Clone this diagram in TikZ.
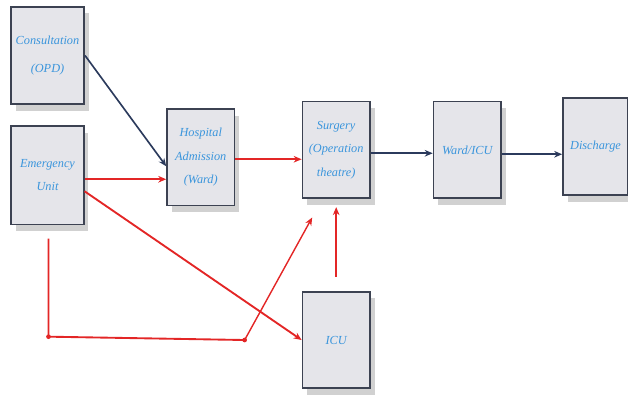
\documentclass[tikz,border=0pt]{standalone}
\usepackage{xcolor}
\usepackage{fontspec}
\setmainfont{Liberation Serif}
\usetikzlibrary{arrows.meta,positioning,calc,shadows}

\definecolor{boxfill}{HTML}{E5E5EA}
\definecolor{boxline}{HTML}{3C4252}
\definecolor{txtblue}{HTML}{3A95DC}
\definecolor{flowred}{HTML}{E32626}
\definecolor{flownavy}{HTML}{2B3A5C}

\begin{document}
\begin{tikzpicture}[
    node distance=0.57cm and 2cm,
    stage/.style={draw=boxline, line width=1.5pt, fill=boxfill, minimum width=2.02cm, minimum height=2.9cm,
        font=\fontsize{10.5}{20}\selectfont\itshape, text=txtblue, align=center, inner sep=2pt,
        drop shadow={shadow xshift=0.14cm, shadow yshift=-0.2cm, opacity=0.3, fill=black!60}},
    redarr/.style={-{Stealth[length=2.4mm,width=2mm]}, flowred, line width=1.6pt},
    navyarr/.style={-{Stealth[length=2.4mm,width=2mm]}, flownavy, line width=1.4pt},
    redline/.style={flowred, line width=1.6pt},
    elbow/.style={circle, fill=flowred, inner sep=0pt, minimum size=4pt}
]
    \useasboundingbox (0,0) rectangle (18.84,-12.27);
    % Entry points on the left
    \node[stage, minimum width=2.2cm, minimum height=2.93cm] (cons) at (1.425,-1.665) {Consultation\\[4pt](OPD)};
    \node[stage, minimum width=2.17cm, minimum height=2.95cm, below=0.6cm of cons] (emer) {Emergency\\Unit};
    % Main flow
    \node[stage, right=2.45cm of emer, yshift=0.54cm] (adm) {Hospital\\Admission\\(Ward)};
    \node[stage, right=1.99cm of adm, yshift=0.22cm] (surg) {Surgery\\(Operation\\theatre)};
    \node[stage, right=1.86cm of surg] (ward) {Ward/ICU};
    \node[stage, minimum width=1.95cm, right=1.81cm of ward, yshift=0.1cm] (dis) {Discharge};
    % ICU under the surgery box
    \node[stage, below=2.75cm of surg] (icu) {ICU};

    % Elbows of the emergency bypass
    \coordinate (elbowA) at ($(emer.south |- icu.west)+(0.03,0.1)$);
    \coordinate (elbowB) at ($(icu.west)+(-1.71,0)$);

    % Arrivals into the ward
    \draw[navyarr] (cons.east) -- ([yshift=-0.27cm]adm.west);
    \draw[redarr] ([yshift=-0.12cm]emer.east) -- ([yshift=-0.12cm]emer.east -| adm.west);
    \draw[redarr] ([yshift=-0.06cm]adm.east) -- ([yshift=-0.06cm]adm.east -| surg.west);
    % Onwards to discharge
    \draw[navyarr] ([yshift=-0.1cm]surg.east) -- ([yshift=-0.1cm]surg.east -| ward.west);
    \draw[navyarr] ([yshift=-0.13cm]ward.east) -- ([yshift=-0.13cm]ward.east -| dis.west);
    % Emergency straight to ICU
    \draw[redarr] ([yshift=-0.48cm]emer.east) -- (icu.west);
    % Emergency bypass to surgery
    \draw[redline] ([yshift=-0.4cm]emer.south -| elbowA) -- (elbowA) -- (elbowB);
    \draw[redarr, line width=1.2pt] (elbowB) -- ([xshift=-0.72cm, yshift=-0.55cm]surg.south);
    \node[elbow] at (elbowA) {};
    \node[elbow] at (elbowB) {};
    % ICU back to surgery
    \draw[redarr, line width=1.2pt, shorten <=0.42cm, shorten >=0.24cm] (icu) -- (surg);
\end{tikzpicture}
\end{document}
